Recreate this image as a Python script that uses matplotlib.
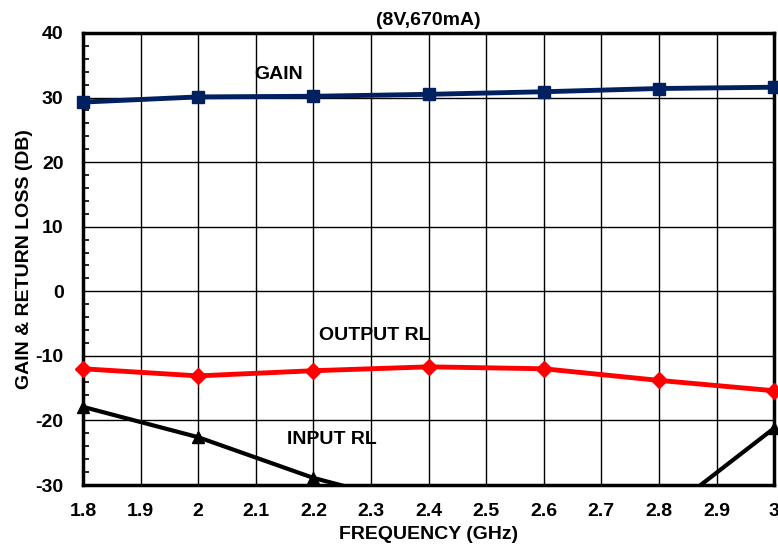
import numpy as np
import matplotlib
matplotlib.use("Agg")
import matplotlib.pyplot as plt
from matplotlib.patches import Rectangle

plt.rcParams['font.family'] = ['Liberation Sans', 'DejaVu Sans']
plt.rcParams['font.weight'] = 'bold'

# data
freq = [1.8, 2.0, 2.2, 2.4, 2.6, 2.8, 3.0]
gain = [29.3, 30.1, 30.2, 30.5, 30.9, 31.4, 31.6]
output_rl = [-12.0, -13.1, -12.3, -11.7, -12.0, -13.8, -15.4]
input_rl = [-17.9, -22.6, -28.9, -33.6, -38.0, -35.0, -21.2]

x_ticks = [1.8, 1.9, 2.0, 2.1, 2.2, 2.3, 2.4, 2.5, 2.6, 2.7, 2.8, 2.9, 3.0]
x_labels = ['1.8', '1.9', '2', '2.1', '2.2', '2.3', '2.4', '2.5', '2.6', '2.7', '2.8', '2.9', '3']
y_ticks = [-30, -20, -10, 0, 10, 20, 30, 40]

fs = 14

fig = plt.figure(figsize=(7.78, 5.46), dpi=100)
ax = fig.add_axes([0.1067, 0.1117, 0.8883, 0.8279])

ax.set_xlim(1.8, 3.0)
ax.set_ylim(-30, 40)

# grid
for xv in x_ticks:
    ax.axvline(xv, color='black', lw=1.0, zorder=1)
for yv in y_ticks:
    ax.axhline(yv, color='black', lw=1.0, zorder=1)

ax.plot(freq, gain, color='#002060', lw=3.5, marker='s', ms=9, clip_on=False, zorder=4)
ax.plot(freq, output_rl, color='#ff0000', lw=3.5, marker='D', ms=8, clip_on=False, zorder=4)
ln, = ax.plot(freq, input_rl, color='black', lw=3, marker='^', ms=9, zorder=4)
clip = Rectangle((1.7, -30), 1.4, 75, transform=ax.transData)
ln.set_clip_path(clip)

ax.text(2.14, 33.5, 'GAIN', fontsize=fs, fontweight='bold', ha='center', va='center')
ax.text(2.307, -6.9, 'OUTPUT RL', fontsize=fs, fontweight='bold', ha='center', va='center')
ax.text(2.232, -23.0, 'INPUT RL', fontsize=fs, fontweight='bold', ha='center', va='center')

ax.set_xticks(x_ticks)
ax.set_xticklabels(x_labels, fontsize=fs, fontweight='bold')
ax.set_yticks(y_ticks)
ax.set_yticklabels([str(v) for v in y_ticks], fontsize=fs, fontweight='bold')
ax.set_yticks(np.arange(-30, 41, 2), minor=True)
ax.tick_params(axis='x', length=0, pad=13)
ax.tick_params(axis='y', which='major', length=0, pad=14)
ax.tick_params(axis='y', which='minor', direction='in', length=4, width=1.2)

for s in ax.spines.values():
    s.set_linewidth(2.5)
    s.set_zorder(3)

ax.set_xlabel('FREQUENCY (GHz)', fontsize=fs, fontweight='bold', labelpad=4)
ax.set_ylabel('GAIN & RETURN LOSS (DB)', fontsize=fs, fontweight='bold', labelpad=2)
ax.set_title('(8V,670mA)', fontsize=fs, fontweight='bold', pad=6)

fig.savefig('out.png', dpi=100)
